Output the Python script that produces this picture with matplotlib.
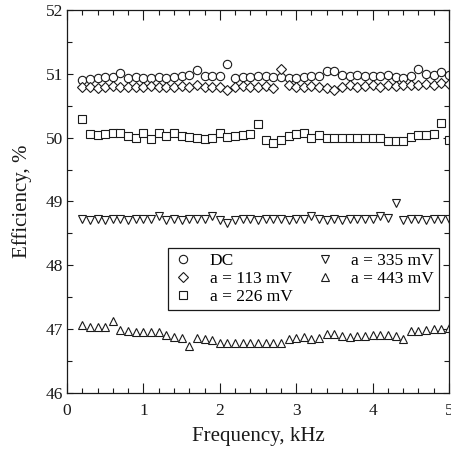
import numpy as np
import matplotlib
matplotlib.use("Agg")
import matplotlib.pyplot as plt
from matplotlib.ticker import MultipleLocator

plt.rcParams['font.family'] = ['Liberation Serif', 'DejaVu Serif']
plt.rcParams['mathtext.fontset'] = 'stix'

# frequency grid, kHz
freq = np.round(np.arange(0.2, 5.01, 0.1), 1)

# efficiency, %
eff_dc = [50.90, 50.92, 50.93, 50.95, 50.95, 51.01, 50.93, 50.95, 50.94, 50.94,
          50.95, 50.94, 50.95, 50.96, 50.98, 51.06, 50.97, 50.96, 50.97, 51.16,
          50.94, 50.95, 50.95, 50.96, 50.97, 50.95, 50.95, 50.94, 50.93, 50.95,
          50.96, 50.97, 51.04, 51.04, 50.98, 50.97, 50.98, 50.97, 50.96, 50.96,
          50.98, 50.95, 50.94, 50.97, 51.07, 50.99, 50.98, 51.03, 50.98]
eff_113 = [50.79, 50.80, 50.78, 50.80, 50.81, 50.79, 50.80, 50.79, 50.80, 50.81,
           50.80, 50.79, 50.80, 50.81, 50.80, 50.82, 50.80, 50.79, 50.80, 50.74,
           50.80, 50.81, 50.80, 50.80, 50.81, 50.78, 51.08, 50.83, 50.79, 50.80,
           50.81, 50.80, 50.78, 50.74, 50.79, 50.82, 50.80, 50.81, 50.82, 50.80,
           50.82, 50.81, 50.83, 50.82, 50.83, 50.84, 50.82, 50.85, 50.84]
eff_226 = [50.29, 50.05, 50.04, 50.05, 50.07, 50.08, 50.02, 50.00, 50.07, 49.98,
           50.08, 50.03, 50.08, 50.02, 50.01, 49.99, 49.98, 50.00, 50.07, 50.01,
           50.02, 50.04, 50.06, 50.21, 49.96, 49.91, 49.97, 50.02, 50.05, 50.07,
           49.99, 50.04, 50.00, 49.99, 49.99, 49.99, 49.99, 49.99, 49.99, 49.99,
           49.94, 49.94, 49.95, 50.01, 50.04, 50.04, 50.05, 50.23, 49.97]
eff_335 = [48.72, 48.71, 48.72, 48.71, 48.72, 48.72, 48.71, 48.72, 48.73, 48.72,
           48.78, 48.71, 48.72, 48.71, 48.72, 48.73, 48.72, 48.78, 48.71, 48.66,
           48.71, 48.72, 48.72, 48.71, 48.72, 48.72, 48.73, 48.71, 48.72, 48.73,
           48.78, 48.72, 48.71, 48.72, 48.71, 48.72, 48.72, 48.73, 48.72, 48.78,
           48.74, 48.98, 48.71, 48.72, 48.72, 48.71, 48.72, 48.72, 48.73]
eff_443 = [47.07, 47.04, 47.03, 47.03, 47.13, 46.98, 46.97, 46.96, 46.96, 46.95,
           46.95, 46.91, 46.88, 46.86, 46.74, 46.86, 46.84, 46.83, 46.79, 46.78,
           46.78, 46.78, 46.78, 46.78, 46.78, 46.79, 46.79, 46.84, 46.86, 46.88,
           46.84, 46.86, 46.93, 46.93, 46.90, 46.88, 46.90, 46.90, 46.91, 46.91,
           46.91, 46.90, 46.85, 46.97, 46.97, 46.98, 47.00, 47.01, 47.02]

series = [
    (eff_dc, 'o', 6.0, 'DC'),
    (eff_113, 'D', 5.2, 'a = 113 mV'),
    (eff_226, 's', 5.6, 'a = 226 mV'),
    (eff_335, 'v', 5.6, 'a = 335 mV'),
    (eff_443, '^', 5.6, 'a = 443 mV'),
]

fig = plt.figure(figsize=(4.51, 4.55), dpi=100, facecolor='white')
ax = fig.add_axes([0.1486, 0.1363, 0.8470, 0.8417])

ink = '#1a1a1a'
for vals, mk, ms, lab in series:
    ax.plot(freq, vals, linestyle='none', marker=mk, markersize=ms,
            markerfacecolor='white', markeredgecolor=ink, markeredgewidth=0.8,
            label=lab)

ax.set_xlim(0, 5)
ax.set_ylim(46, 52)
ax.xaxis.set_major_locator(MultipleLocator(1))
ax.xaxis.set_minor_locator(MultipleLocator(0.2))
ax.yaxis.set_major_locator(MultipleLocator(1))
ax.yaxis.set_minor_locator(MultipleLocator(0.5))
ax.tick_params(which='both', direction='in', top=True, right=True,
               colors=ink, labelsize=12.5, width=0.8)
ax.tick_params(axis='x', which='major', length=7, pad=7)
ax.tick_params(axis='x', which='minor', length=3.5)
ax.tick_params(axis='y', which='major', length=4, pad=3)
ax.tick_params(axis='y', which='minor', length=3.5)
for sp in ax.spines.values():
    sp.set_color(ink)
    sp.set_linewidth(0.9)

ax.set_xlabel('Frequency, kHz', fontsize=15, color=ink, labelpad=6)
ax.set_ylabel('Efficiency, %', fontsize=15, color=ink, labelpad=10)

leg = ax.legend(loc='upper left', bbox_to_anchor=(0.264, 0.379), ncol=2,
                fontsize=12.5, frameon=True, fancybox=False, edgecolor=ink,
                framealpha=1, handlelength=1.2, handletextpad=0.9,
                columnspacing=1.3, labelspacing=0.1, borderpad=0.3,
                borderaxespad=0)
leg.get_frame().set_linewidth(0.9)

fig.savefig('out.png', dpi=100, facecolor='white')
